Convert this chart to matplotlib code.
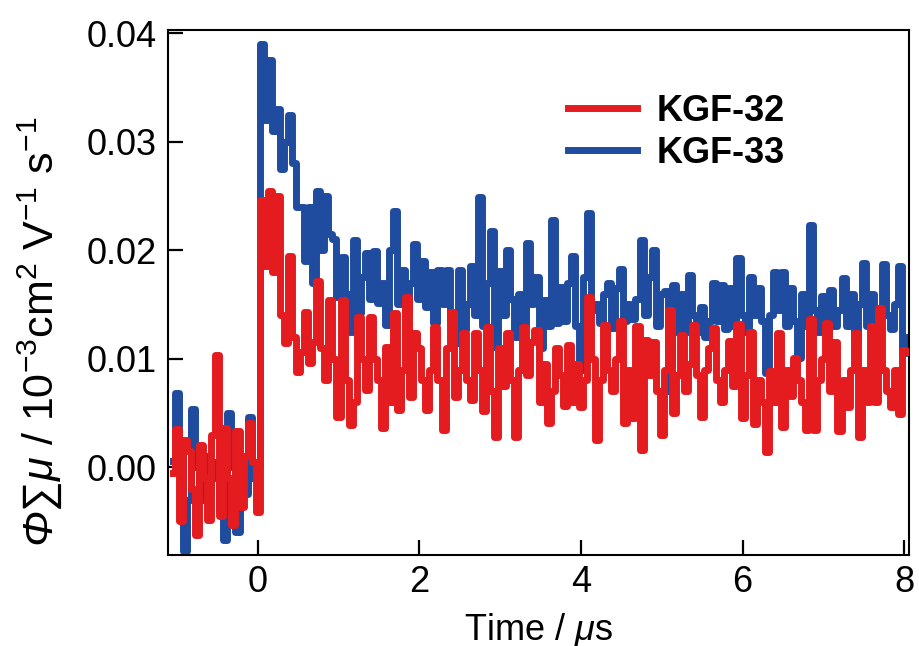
import numpy as np
import matplotlib
matplotlib.use("Agg")
import matplotlib.pyplot as plt
from matplotlib.lines import Line2D

# ---- data (time step 0.05 us starting at -1.05 us) ----
t_start = -1.05
t_step = 0.05

kgf32 = [  # red
    -0.0005, 0.0035, -0.0050, 0.0025, 0.0015, -0.0020, -0.0063, 0.0020, -0.0010, -0.0049,
    0.0030, 0.0103, -0.0045, 0.0036, -0.0010, -0.0053, 0.0033, -0.0037, 0.0010, 0.0041,
    0.0005, -0.0041, 0.0246, 0.0185, 0.0255, 0.0180, 0.0250, 0.0140, 0.0114, 0.0195,
    0.0120, 0.0088, 0.0106, 0.0143, 0.0096, 0.0115, 0.0172, 0.0110, 0.0080, 0.0154,
    0.0100, 0.0046, 0.0154, 0.0080, 0.0039, 0.0060, 0.0138, 0.0100, 0.0071, 0.0138,
    0.0100, 0.0080, 0.0036, 0.0111, 0.0060, 0.0142, 0.0053, 0.0090, 0.0157, 0.0065,
    0.0124, 0.0110, 0.0080, 0.0053, 0.0090, 0.0129, 0.0080, 0.0034, 0.0110, 0.0143,
    0.0065, 0.0090, 0.0124, 0.0080, 0.0062, 0.0124, 0.0090, 0.0052, 0.0129, 0.0070,
    0.0028, 0.0110, 0.0075, 0.0124, 0.0080, 0.0028, 0.0090, 0.0129, 0.0085, 0.0115,
    0.0126, 0.0060, 0.0095, 0.0041, 0.0070, 0.0110, 0.0085, 0.0056, 0.0113, 0.0060,
    0.0095, 0.0055, 0.0080, 0.0157, 0.0100, 0.0025, 0.0080, 0.0131, 0.0090, 0.0070,
    0.0100, 0.0135, 0.0041, 0.0090, 0.0045, 0.0130, 0.0016, 0.0117, 0.0085, 0.0115,
    0.0070, 0.0030, 0.0090, 0.0145, 0.0050, 0.0085, 0.0122, 0.0070, 0.0095, 0.0131,
    0.0085, 0.0046, 0.0090, 0.0110, 0.0128, 0.0080, 0.0060, 0.0090, 0.0116, 0.0075,
    0.0132, 0.0045, 0.0085, 0.0125, 0.0040, 0.0080, 0.0060, 0.0014, 0.0089, 0.0060,
    0.0124, 0.0037, 0.0090, 0.0066, 0.0101, 0.0080, 0.0060, 0.0034, 0.0137, 0.0034,
    0.0080, 0.0100, 0.0133, 0.0070, 0.0115, 0.0033, 0.0080, 0.0055, 0.0090, 0.0124,
    0.0028, 0.0090, 0.0060, 0.0130, 0.0060, 0.0147, 0.0090, 0.0070, 0.0055, 0.0090,
    0.0049, 0.0108, 0.0106,
]

kgf33 = [  # blue
    0.0006, 0.0068, 0.0020, -0.0077, -0.0030, 0.0054, 0.0000, -0.0030, 0.0010, -0.0020,
    0.0005, -0.0010, -0.0040, -0.0067, 0.0050, 0.0000, -0.0060, -0.0010, -0.0025, 0.0046,
    -0.0010, 0.0000, 0.0390, 0.0320, 0.0375, 0.0310, 0.0330, 0.0275, 0.0300, 0.0325,
    0.0280, 0.0240, 0.0240, 0.0190, 0.0240, 0.0170, 0.0255, 0.0200, 0.0250, 0.0215,
    0.0210, 0.0157, 0.0194, 0.0160, 0.0125, 0.0209, 0.0142, 0.0175, 0.0197, 0.0155,
    0.0199, 0.0151, 0.0170, 0.0131, 0.0200, 0.0236, 0.0150, 0.0182, 0.0140, 0.0170,
    0.0206, 0.0155, 0.0190, 0.0148, 0.0180, 0.0133, 0.0182, 0.0150, 0.0182, 0.0135,
    0.0114, 0.0182, 0.0126, 0.0150, 0.0185, 0.0140, 0.0249, 0.0130, 0.0170, 0.0218,
    0.0111, 0.0181, 0.0140, 0.0200, 0.0155, 0.0120, 0.0160, 0.0130, 0.0207, 0.0150,
    0.0175, 0.0110, 0.0154, 0.0130, 0.0228, 0.0133, 0.0166, 0.0135, 0.0170, 0.0195,
    0.0130, 0.0090, 0.0175, 0.0234, 0.0145, 0.0150, 0.0133, 0.0160, 0.0170, 0.0128,
    0.0165, 0.0183, 0.0135, 0.0150, 0.0137, 0.0155, 0.0209, 0.0140, 0.0175, 0.0200,
    0.0130, 0.0160, 0.0162, 0.0070, 0.0168, 0.0125, 0.0160, 0.0125, 0.0177, 0.0140,
    0.0125, 0.0148, 0.0120, 0.0135, 0.0170, 0.0135, 0.0168, 0.0127, 0.0165, 0.0130,
    0.0193, 0.0140, 0.0125, 0.0175, 0.0140, 0.0165, 0.0135, 0.0087, 0.0140, 0.0180,
    0.0145, 0.0180, 0.0130, 0.0165, 0.0135, 0.0101, 0.0160, 0.0130, 0.0223, 0.0145,
    0.0125, 0.0158, 0.0125, 0.0163, 0.0130, 0.0145, 0.0174, 0.0130, 0.0160, 0.0120,
    0.0150, 0.0188, 0.0130, 0.0160, 0.0125, 0.0140, 0.0187, 0.0140, 0.0127, 0.0150,
    0.0185, 0.0105, 0.0120,
]

labels = ["KGF-32", "KGF-33"]
colors = ["#E41B1F", "#1F4C9F"]

x_ticks = [0, 2, 4, 6, 8]
y_ticks = [0.00, 0.01, 0.02, 0.03, 0.04]
y_ticklabels = ["0.00", "0.01", "0.02", "0.03", "0.04"]

# ---- style ----
plt.rcParams["font.family"] = ["Liberation Sans", "DejaVu Sans"]
plt.rcParams["mathtext.fontset"] = "custom"
plt.rcParams["mathtext.rm"] = "Liberation Sans"
plt.rcParams["mathtext.it"] = "Liberation Sans:italic"
plt.rcParams["mathtext.sf"] = "Liberation Sans:italic"
plt.rcParams["mathtext.bf"] = "Liberation Sans:bold"

fig = plt.figure(figsize=(9.19, 6.46), dpi=100)
ax = fig.add_axes([168 / 919, 1 - 555 / 646, (909 - 168) / 919, (555 - 30) / 646])

t32 = t_start + t_step * np.arange(len(kgf32))
t33 = t_start + t_step * np.arange(len(kgf33))

ax.plot(t33, kgf33, color=colors[1], lw=5.0, drawstyle="steps-mid", zorder=2)
ax.plot(t32, kgf32, color=colors[0], lw=5.0, drawstyle="steps-mid", zorder=3)

ax.set_xlim(-1.11, 8.06)
ax.set_ylim(-0.0081, 0.0403)

ax.set_xticks(x_ticks)
ax.set_yticks(y_ticks)
ax.set_yticklabels(y_ticklabels)
ax.tick_params(axis="both", direction="in", length=11, width=1.6, labelsize=26,
               top=False, right=False)
ax.tick_params(axis="y", pad=8)
ax.tick_params(axis="x", pad=7)
for s in ax.spines.values():
    s.set_linewidth(1.5)

ax.set_xlabel(r"Time / $\mathit{μ}$s", fontsize=26, labelpad=8)
ax.set_ylabel(r"$\mathsf{Φ}$∑$\mathit{μ}$ / 10$^{-3}$cm$^{2}$ V$^{-1}$ s$^{-1}$",
              fontsize=31)
ax.yaxis.set_label_coords(-0.141, 0.425)

handles = [Line2D([], [], color=c, lw=5) for c in colors]
leg = ax.legend(handles, labels, loc="upper left", bbox_to_anchor=(0.540, 0.878),
                frameon=False, borderpad=0, borderaxespad=0, handlelength=1.9,
                handletextpad=0.55, labelspacing=0.19,
                prop={"weight": "bold", "size": 26, "family": "Liberation Sans"})

fig.savefig("out.png", dpi=100)
